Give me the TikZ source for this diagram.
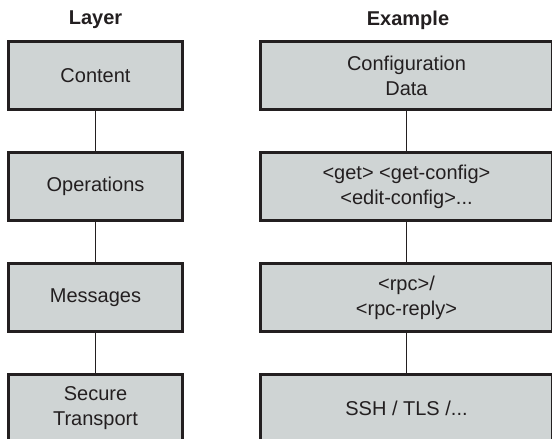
\documentclass[tikz,border=0pt]{standalone}
\usepackage{fontspec}
\setmainfont{Liberation Sans}
\usetikzlibrary{calc}
\definecolor{boxgray}{RGB}{207,212,212}
\definecolor{inkgray}{RGB}{35,31,32}
\tikzstyle{layerbox}=[rectangle,fill=boxgray,draw=inkgray,line width=1.4pt,minimum width=87pt,minimum height=34pt,inner sep=0pt,align=center,text=inkgray,font=\fontsize{10}{12.5}\selectfont]
\tikzstyle{examplebox}=[layerbox,minimum width=146pt]
\tikzstyle{undirectededge}=[draw,line width=0.6pt,inkgray]
\tikzstyle{heading}=[text=inkgray,font=\fontsize{10}{12.5}\selectfont\bfseries]

\begin{document}
\begin{tikzpicture}[x=0.5pt,y=-0.5pt]
    \useasboundingbox (0,0) rectangle (552,439);
    % column titles
    \node[heading] (layertitle) at (95.5,20) {Layer};
    \node[heading] (exampletitle) at (408,20) {Example};

    % the layers
    \foreach \pos/\name/\txt in {{(95.5,75.5)/content/Content},{(95.5,186.5)/operations/Operations},
        {(95.5,297.5)/messages/Messages},{(95.5,408.5)/transport/{Secure\\Transport}}}
        \node[layerbox] (\name) at \pos {\txt};

    % what each layer carries
    \foreach \pos/\name/\txt in {{(406.5,75.5)/data/{Configuration\\Data}},{(406.5,186.5)/ops/{<get> <get-config>\\<edit-config>...}},
        {(406.5,297.5)/msgs/{<rpc>/\\<rpc-reply>}},{(406.5,408.5)/ssh/{SSH / TLS /...}}}
        \node[examplebox] (\name) at \pos {\txt};

    % Connect the boxes of each column
    \foreach \source/\dest in {content/operations, operations/messages, messages/transport,
        data/ops, ops/msgs, msgs/ssh}
        \path[undirectededge] (\source) -- (\dest);
\end{tikzpicture}
\end{document}
